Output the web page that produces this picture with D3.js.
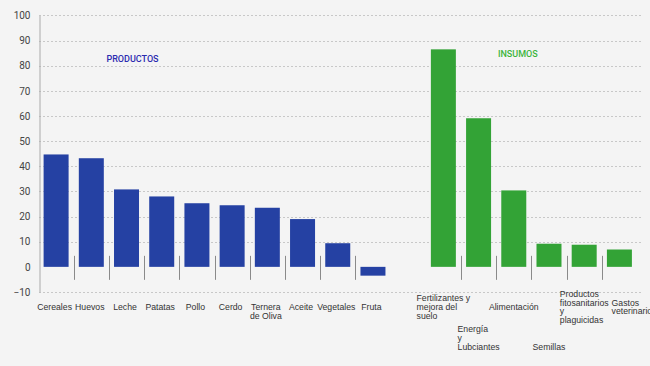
<!DOCTYPE html>
<html>
<head>
<meta charset="utf-8">
<script src="https://cdn.jsdelivr.net/npm/d3@7"></script>
<style>
  html, body { margin: 0; padding: 0; background: #f4f4f4; }
  svg { display: block; }
</style>
</head>
<body>
<div id="chart"></div>
<script>
// categories, "" is the empty slot between the two groups
const categories = ["Cereales", "Huevos", "Leche", "Patatas", "Pollo", "Cerdo", "Ternera",
    "Aceite", "Vegetales", "Fruta", "",
    "Fertilizantes", "Energia", "Alimentacion", "Semillas", "Productos", "Gastos"];

// label lines as drawn under each bar
const labelLines = [["Cereales"], ["Huevos"], ["Leche"], ["Patatas"], ["Pollo"], ["Cerdo"],
    ["Ternera", "de Oliva"], ["Aceite"], ["Vegetales"], ["Fruta"], [],
    ["Fertilizantes y", "mejora del", "suelo"], ["Energía", "y", "Lubciantes"], ["Alimentación"],
    ["Semillas"], ["Productos", "fitosanitarios", "y", "plaguicidas"], ["Gastos", "veterinarios"]];

// 0 = productos, 1 = insumos, -1 = empty
const groups = [0, 0, 0, 0, 0, 0, 0, 0, 0, 0, -1, 1, 1, 1, 1, 1, 1];
// label row (insumos labels are staggered)
const labelRows = [0, 0, 0, 0, 0, 0, 0, 0, 0, 0, 0, 0, 1, 0, 1, 0, 0];

const values = [44.7, 43.2, 30.8, 28.0, 25.3, 24.5, 23.5, 19.0, 9.4, -3.5, null,
    86.5, 59.1, 30.4, 9.2, 8.8, 6.9];

const yTicks = [-10, 0, 10, 20, 30, 40, 50, 60, 70, 80, 90, 100];
const groupTitles = ["PRODUCTOS", "INSUMOS"];

const width = 650, height = 366;
const colors = ["#2541a3", "#33a336"];
const titleColors = ["#2b2bb0", "#3cb43c"];

const svg = d3.select("#chart").append("svg")
    .attr("width", width)
    .attr("height", height);

const x = d3.scaleBand()
    .domain(d3.range(categories.length))
    .range([38.5, 637])
    .paddingInner(0.29)
    .paddingOuter(0.145);

const y = d3.scaleLinear()
    .domain([-10, 100])
    .range([292, 15.4]);

// dashed grid (no line at zero)
svg.append("g")
    .selectAll("line")
    .data(yTicks.filter(d => d !== 0))
    .enter().append("line")
    .attr("x1", 39).attr("x2", 641)
    .attr("y1", d => Math.round(y(d)) + 0.5)
    .attr("y2", d => Math.round(y(d)) + 0.5)
    .attr("stroke", "#c8c8c8")
    .attr("stroke-dasharray", "2,2");

// y axis
const yAxis = svg.append("g")
    .attr("transform", "translate(39.5,0)")
    .call(d3.axisLeft(y).tickValues(yTicks).tickSize(0).tickPadding(9));
yAxis.select(".domain").attr("stroke", "#aaa");
yAxis.selectAll("text")
    .attr("fill", "#444")
    .style("font-family", "Roboto, 'Liberation Sans', sans-serif")
    .style("font-size", "10px");

// bars
const idx = d3.range(categories.length).filter(i => values[i] !== null);
svg.append("g")
    .selectAll("rect")
    .data(idx)
    .enter().append("rect")
    .attr("x", i => x(i))
    .attr("width", x.bandwidth())
    .attr("y", i => y(Math.max(0, values[i])))
    .attr("height", i => Math.abs(y(values[i]) - y(0)))
    .attr("fill", i => colors[groups[i]]);

// separators between neighbouring categories of the same group
const sepIdx = d3.range(1, categories.length)
    .filter(i => groups[i] >= 0 && groups[i] === groups[i - 1]);
const half = x.step() * x.paddingInner() / 2;
svg.append("g")
    .selectAll("line")
    .data(sepIdx)
    .enter().append("line")
    .attr("x1", i => Math.round(x(i) - half) + 0.5)
    .attr("x2", i => Math.round(x(i) - half) + 0.5)
    .attr("y1", y(0) - 11)
    .attr("y2", y(0) + 13)
    .attr("stroke", "#8a8a8a")
    .attr("stroke-width", 1);

// category labels
const lineH = 8.8;
const labels = svg.append("g")
    .style("font-family", "'Liberation Sans', Arial, sans-serif")
    .style("font-size", "8.7px")
    .attr("fill", "#333");

// right edge of the last label block in each row, to keep blocks from colliding
const rowRight = [-Infinity, -Infinity];

idx.forEach(i => {
    const lines = labelLines[i];
    const cx = x(i) + x.bandwidth() / 2;
    const g = labels.append("g");
    let firstY;
    if (groups[i] === 0) {
        firstY = 310;
    } else if (labelRows[i] === 0) {
        firstY = 310 - (lines.length - 1) * lineH / 2;
    } else {
        firstY = 350 - (lines.length - 1) * lineH;
    }
    const texts = g.selectAll("text")
        .data(lines)
        .enter().append("text")
        .attr("y", (d, k) => firstY + k * lineH)
        .text(d => d);
    if (groups[i] === 0) {
        texts.attr("x", cx - 1.5).attr("text-anchor", "middle");
    } else {
        let maxW = 0;
        texts.each(function () { maxW = Math.max(maxW, this.getComputedTextLength()); });
        const r = labelRows[i];
        const left = Math.max(cx - maxW / 2, rowRight[r] + 3);
        rowRight[r] = left + maxW;
        texts.attr("x", left).attr("text-anchor", "start");
    }
});

// group titles
svg.append("g")
    .selectAll("text")
    .data(groupTitles)
    .enter().append("text")
    .attr("x", (d, k) => k === 0 ? x(2) + x.bandwidth() / 2 + 6 : x(13) + x.bandwidth() / 2 + 4)
    .attr("y", (d, k) => k === 0 ? y(81.5) : y(83.5))
    .attr("text-anchor", "middle")
    .attr("fill", (d, k) => titleColors[k])
    .style("font-family", "Roboto, 'Liberation Sans', sans-serif")
    .style("font-size", "9px")
    .style("font-weight", 500)
    .text(d => d);
</script>
</body>
</html>
